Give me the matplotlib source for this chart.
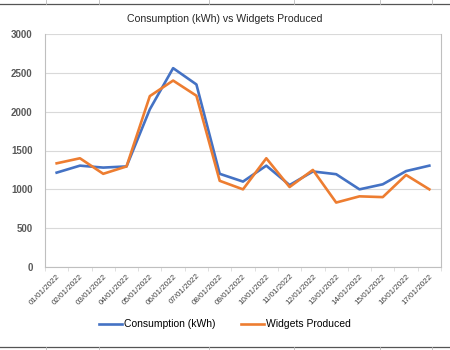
import matplotlib.pyplot as plt
from matplotlib.lines import Line2D
import numpy as np

# data
dates = ["01/01/2022", "02/01/2022", "03/01/2022", "04/01/2022", "05/01/2022",
         "06/01/2022", "07/01/2022", "08/01/2022", "09/01/2022", "10/01/2022",
         "11/01/2022", "12/01/2022", "13/01/2022", "14/01/2022", "15/01/2022",
         "16/01/2022", "17/01/2022"]
consumption = [1215, 1305, 1280, 1295, 2030, 2560, 2350, 1200, 1100, 1305,
               1055, 1230, 1195, 1000, 1065, 1235, 1305]
widgets = [1335, 1400, 1200, 1295, 2200, 2400, 2205, 1110, 1000, 1400,
           1030, 1250, 830, 910, 900, 1185, 1000]

plt.rcParams['font.family'] = ['Liberation Sans', 'DejaVu Sans']

fig = plt.figure(figsize=(4.5, 3.5), dpi=100)
ax = fig.add_axes([0.1, 0.237, 0.88, 0.666])

xs = np.arange(len(dates))
ax.plot(xs, consumption, color='#4472C4', lw=1.9, label='Consumption (kWh)')
ax.plot(xs, widgets, color='#ED7D31', lw=1.9, label='Widgets Produced')

ax.set_xlim(-0.5, len(dates) - 0.5)
ax.set_ylim(0, 3000)
ax.set_yticks(range(0, 3001, 500))
ax.yaxis.grid(True, color='#d9d9d9', lw=0.8)
ax.set_axisbelow(True)
ax.tick_params(axis='y', length=0, labelsize=7, labelcolor='#595959', pad=9)
for lab in ax.get_yticklabels():
    lab.set_fontweight('bold')

ax.set_xticks(xs)
ax.set_xticklabels(dates, rotation=45, ha='right', rotation_mode='anchor',
                   fontsize=5.8, color='#404040')
ax.tick_params(axis='x', length=0, pad=4)
ax.set_xticks(np.arange(-0.5, len(dates)), minor=True)
ax.tick_params(axis='x', which='minor', length=3, color='#d9d9d9')

ax.spines['top'].set_visible(False)
for s in ['left', 'right', 'bottom']:
    ax.spines[s].set_color('#bfbfbf')
    ax.spines[s].set_linewidth(0.8)

fig.text(0.5, 0.947, 'Consumption (kWh) vs Widgets Produced', ha='center',
         va='center', fontsize=7.6, color='#262626')

ax.legend(loc='center', bbox_to_anchor=(0.5, 0.073), bbox_transform=fig.transFigure,
          ncol=2, frameon=False, fontsize=7.5, handlelength=2.2, handletextpad=0.2,
          columnspacing=2.5)

# spreadsheet cell borders around the chart
fig.add_artist(Line2D([0, 1], [0.988, 0.988], color='#555555', lw=0.9))
fig.add_artist(Line2D([0, 1], [0.009, 0.009], color='#555555', lw=0.9))
for xc in [46, 99, 209, 294, 380, 432]:
    fig.add_artist(Line2D([xc / 450, xc / 450], [0.988, 1], color='#bbbbbb', lw=0.6))
    fig.add_artist(Line2D([xc / 450, xc / 450], [0, 0.009], color='#bbbbbb', lw=0.6))

fig.savefig('out.png', dpi=100)
